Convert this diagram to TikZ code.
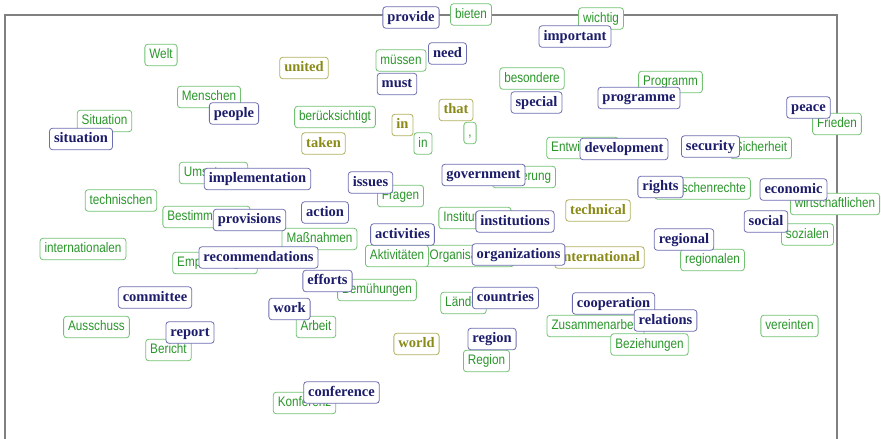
\documentclass[tikz,border=0pt]{standalone}
\usepackage{fontspec}
\setmainfont{Liberation Serif}
\newfontfamily\desans[FakeStretch=0.85]{Liberation Sans}
\definecolor{ennavy}{HTML}{1C1C6B}
\definecolor{enborder}{HTML}{6E6EB2}
\definecolor{degreen}{HTML}{2A962A}
\definecolor{deborder}{HTML}{72C272}
\definecolor{olivetxt}{HTML}{8A8A18}
\definecolor{oliveborder}{HTML}{B2B262}
\definecolor{framegray}{HTML}{808080}
\tikzset{
  wbox/.style={draw, fill=white, rounded corners=3pt, line width=0.8pt, minimum height=21.5pt, inner xsep=4.5pt, inner ysep=0pt, text height=10pt, text depth=3pt},
  en/.style={wbox, draw=enborder, text=ennavy, font=\fontsize{14.5}{16}\selectfont\bfseries},
  ol/.style={wbox, draw=oliveborder, text=olivetxt, font=\fontsize{14.5}{16}\selectfont\bfseries},
  de/.style={wbox, draw=deborder, text=degreen, font=\desans\fontsize{13.8}{15}\selectfont},
}
\begin{document}
\begin{tikzpicture}[x=1pt,y=-1pt]
\useasboundingbox (0,0) rectangle (881,439);
\draw[framegray, line width=1.1pt] (5,439) -- (5,15) -- (837,15) -- (837,439);
% German (green)
\node[de] (welt) at (161,55) {Welt};
\node[de] (menschen) at (209,97) {Menschen};
\node[de] (situationde) at (104.5,121) {Situation};
\node[de] (bieten) at (471,14.5) {bieten};
\node[de] (wichtig) at (601,18.5) {wichtig};
\node[de] (muessen) at (401,60.5) {müssen};
\node[de] (besondere) at (532,78.5) {besondere};
\node[de] (beruecks) at (335,117) {berücksichtigt};
\node[de] (inde) at (423,143.5) {in};
\node[de] (komma) at (470,133) {,};
\node[de] (programm) at (670.5,82) {Programm};
\node[de] (frieden) at (837,124) {Frieden};
\node[de] (entwicklung) at (582.5,148) {Entwicklung};
\node[de] (sicherheit) at (761,148) {Sicherheit};
\node[de] (umsetzung) at (213.5,173) {Umsetzung};
\node[de] (technischen) at (121,200.5) {technischen};
\node[de] (bestimmungen) at (206.5,217) {Bestimmungen};
\node[de] (internationalen) at (83,249) {internationalen};
\node[de] (empfehlungen) at (215,263) {Empfehlungen};
\node[de] (massnahmen) at (319.5,239) {Maßnahmen};
\node[de] (fragen) at (400.5,196) {Fragen};
\node[de] (regierung) at (524,177) {Regierung};
\node[de] (institutionen) at (475,218) {Institutionen};
\node[de] (organisationen) at (469.5,256) {Organisationen};
\node[de] (aktivitaeten) at (397,256) {Aktivitäten};
\node[de] (bemuehungen) at (377,290) {Bemühungen};
\node[de] (laender) at (463.5,303) {Länder};
\node[de] (menschenrechte) at (702.5,188.5) {Menschenrechte};
\node[de] (wirtschaftlichen) at (835,204) {wirtschaftlichen};
\node[de] (sozialen) at (807.5,234.5) {sozialen};
\node[de] (regionalen) at (712.5,260) {regionalen};
\node[de] (ausschuss) at (96.5,327) {Ausschuss};
\node[de] (bericht) at (168.5,350) {Bericht};
\node[de] (arbeit) at (316,327) {Arbeit};
\node[de] (konferenz) at (304.5,403) {Konferenz};
\node[de] (regionde) at (486.5,361) {Region};
\node[de] (zusammenarbeit) at (595.5,326) {Zusammenarbeit};
\node[de] (beziehungen) at (649.5,344.5) {Beziehungen};
\node[de] (vereinten) at (789.5,326) {vereinten};
% olive
\node[ol] (united) at (304,68) {united};
\node[ol] (taken) at (323.5,143.5) {taken};
\node[ol] (inen) at (402.5,125) {in};
\node[ol] (that) at (456,110) {that};
\node[ol] (technical) at (598,210.5) {technical};
\node[ol] (international) at (599.5,257.5) {international};
\node[ol] (world) at (416.5,344) {world};
% English (navy)
\node[en] (people) at (234,113.5) {people};
\node[en] (situation) at (81,139) {situation};
\node[en] (provide) at (411,17.5) {provide};
\node[en] (important) at (575,36.5) {important};
\node[en] (need) at (447.5,53.5) {need};
\node[en] (must) at (397,84) {must};
\node[en] (special) at (536.5,102.5) {special};
\node[en] (programme) at (639,98) {programme};
\node[en] (peace) at (808.5,107.5) {peace};
\node[en] (development) at (624,149) {development};
\node[en] (security) at (710.5,146.5) {security};
\node[en] (implementation) at (257.5,179) {implementation};
\node[en] (provisions) at (249.5,220) {provisions};
\node[en] (recommendations) at (258.5,257.5) {recommendations};
\node[en] (committee) at (155,297.5) {committee};
\node[en] (issues) at (370.5,182.5) {issues};
\node[en] (action) at (325,212.5) {action};
\node[en] (government) at (483.5,175) {government};
\node[en] (institutions) at (515,221.5) {institutions};
\node[en] (activities) at (402.5,234.5) {activities};
\node[en] (organizations) at (518.5,254.5) {organizations};
\node[en] (efforts) at (327.5,281) {efforts};
\node[en] (countries) at (505.5,298) {countries};
\node[en] (rights) at (660.5,187) {rights};
\node[en] (economic) at (793.5,189.5) {economic};
\node[en] (social) at (766,221.5) {social};
\node[en] (regional) at (684,239.5) {regional};
\node[en] (cooperation) at (613.5,303.5) {cooperation};
\node[en] (report) at (190,332.5) {report};
\node[en] (work) at (289.5,309) {work};
\node[en] (conference) at (341.5,392.5) {conference};
\node[en] (region) at (492,339) {region};
\node[en] (relations) at (665.5,320.5) {relations};
\end{tikzpicture}
\end{document}
